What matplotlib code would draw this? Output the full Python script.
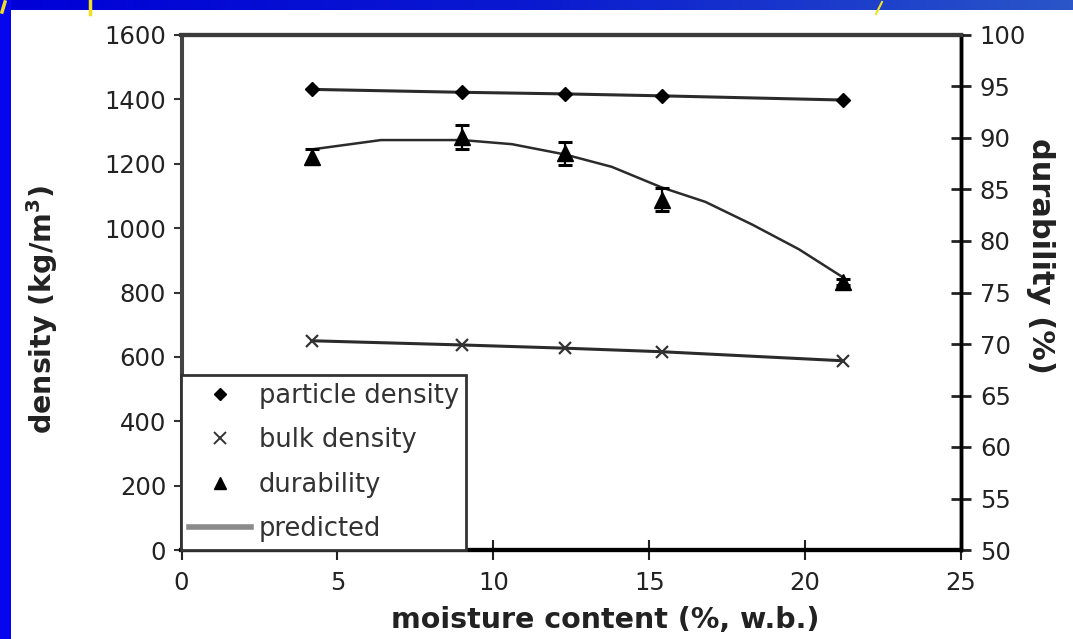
import matplotlib
matplotlib.use("Agg")
import matplotlib.pyplot as plt
from matplotlib.lines import Line2D
from matplotlib.patches import Rectangle
from matplotlib.colors import LinearSegmentedColormap
import numpy as np

# ---- data ----
moisture = [4.2, 9.0, 12.3, 15.4, 21.2]
particle_density = [1431, 1422, 1417, 1411, 1398]
bulk_density = [650, 637, 627, 616, 588]
durability = [88.2, 90.1, 88.5, 84.0, 76.0]
durability_err = [0.7, 1.2, 1.1, 1.1, 0.3]
pred_moisture = [4.2, 6.4, 9.0, 10.6, 12.3, 13.8, 15.4, 16.8, 18.3, 19.8, 21.2]
pred_durability = [88.9, 89.8, 89.8, 89.4, 88.4, 87.2, 85.2, 83.8, 81.6, 79.2, 76.5]

x_ticks = [0, 5, 10, 15, 20, 25]
left_ticks = [0, 200, 400, 600, 800, 1000, 1200, 1400, 1600]
right_ticks = [50, 55, 60, 65, 70, 75, 80, 85, 90, 95, 100]

W, H = 1073, 639
fig = plt.figure(figsize=(W / 100, H / 100), dpi=100)
fig.patch.set_facecolor("white")

# slide decoration: blue strips
grad = np.linspace(0, 1, 256).reshape(1, -1)
cmap = LinearSegmentedColormap.from_list("b", ["#0000d8", "#0a1ad0", "#2a56c8"])
ax_bg = fig.add_axes([0, 1 - 10 / H, 1, 10 / H])
ax_bg.imshow(grad, aspect="auto", cmap=cmap, extent=[0, 1, 0, 1])
ax_bg.set_axis_off()
fig.add_artist(Rectangle((0, 0), 11 / W, 1, transform=fig.transFigure,
                         facecolor="#0505ee", edgecolor="none", zorder=5))
fig.add_artist(Line2D([90 / W, 90 / W], [1 - 14 / H, 1], transform=fig.transFigure,
                      color="#f0e020", lw=2.5, zorder=6))
fig.add_artist(Line2D([2 / W, 5 / W], [1 - 12 / H, 1 - 2 / H], transform=fig.transFigure,
                      color="#f0e020", lw=2.5, zorder=6))
fig.add_artist(Line2D([876 / W, 882 / W], [1 - 14 / H, 1 - 2 / H], transform=fig.transFigure,
                      color="#f0e020", lw=1.5, zorder=6))

left, right, top, bottom = 181.5, 961, 35, 550
ax = fig.add_axes([left / W, 1 - bottom / H, (right - left) / W, (bottom - top) / H])
ax2 = ax.twinx()

line_col = "#2b2b2b"
ax.plot(moisture, particle_density, color=line_col, lw=2.2, marker="D", ms=7,
        mfc="black", mec="black", zorder=3)
ax.plot(moisture, bulk_density, color=line_col, lw=2.2, marker="x", ms=9,
        mew=1.6, mec="#333333", zorder=3)

ax2.plot(pred_moisture, pred_durability, color=line_col, lw=1.8, zorder=3)
ax2.errorbar(moisture, durability, yerr=durability_err, fmt="^", ms=11,
             color="black", ecolor="black", elinewidth=1.6, capsize=5,
             capthick=2.2, zorder=4)

ax.set_xlim(0, 25)
ax.set_ylim(0, 1600)
ax2.set_ylim(50, 100)
ax.set_xticks(x_ticks)
ax.set_xticklabels([str(v) for v in x_ticks])
ax.set_yticks(left_ticks)
ax.set_yticklabels([str(v) for v in left_ticks])
ax2.set_yticks(right_ticks)
ax2.set_yticklabels([str(v) for v in right_ticks])

tick_fs = 17.5
tcol = "#222222"
ax.tick_params(axis="y", direction="out", length=6, width=1.5, pad=5,
               labelsize=tick_fs, labelcolor=tcol, color="#333333")
ax.tick_params(axis="x", direction="inout", length=14, width=1.5, pad=8,
               labelsize=tick_fs, labelcolor=tcol, color="#222222")
ax2.tick_params(axis="y", direction="inout", length=15, width=2, pad=6,
                labelsize=tick_fs, labelcolor=tcol, color="#222222")

for a in (ax, ax2):
    a.spines["top"].set_color("#3a3a3a")
    a.spines["top"].set_linewidth(3)
    a.spines["left"].set_color("#444444")
    a.spines["left"].set_linewidth(2.2)
    a.spines["right"].set_color("black")
    a.spines["right"].set_linewidth(2.5)
    a.spines["bottom"].set_color("black")
    a.spines["bottom"].set_linewidth(3)

# axis titles
fig.text(605 / W, 1 - 620 / H, "moisture content (%, w.b.)", ha="center", va="center",
         fontsize=20.5, fontweight="bold", color="#222222")
fig.text(42 / W, 1 - 310 / H, r"density (kg/m$^{\mathbf{3}}$)", ha="center", va="center",
         rotation=90, fontsize=20.5, fontweight="bold", color="#222222")
fig.text(1041 / W, 1 - 256 / H, "durability (%)", ha="center", va="center",
         rotation=270, fontsize=22, fontweight="bold", color="#222222")

# legend
handles = [
    Line2D([], [], ls="none", marker="D", ms=6, mfc="black", mec="black"),
    Line2D([], [], ls="none", marker="x", ms=8, mew=1.4, mec="#333333"),
    Line2D([], [], ls="none", marker="^", ms=8, mfc="black", mec="black"),
    Line2D([], [], color="#8a8a8a", lw=4),
]
labels = ["particle density", "bulk density", "durability", "predicted"]
leg = ax2.legend(handles, labels, loc="lower left", bbox_to_anchor=(0, 0),
                 borderaxespad=0, fontsize=18.5, frameon=True, fancybox=False,
                 framealpha=1, edgecolor="#333333", borderpad=0.3,
                 handlelength=2.4, handletextpad=0.3, labelspacing=0.72,
                 labelcolor="#333333")
leg.get_frame().set_linewidth(2)

fig.savefig("out.png", dpi=100, facecolor=fig.get_facecolor())
